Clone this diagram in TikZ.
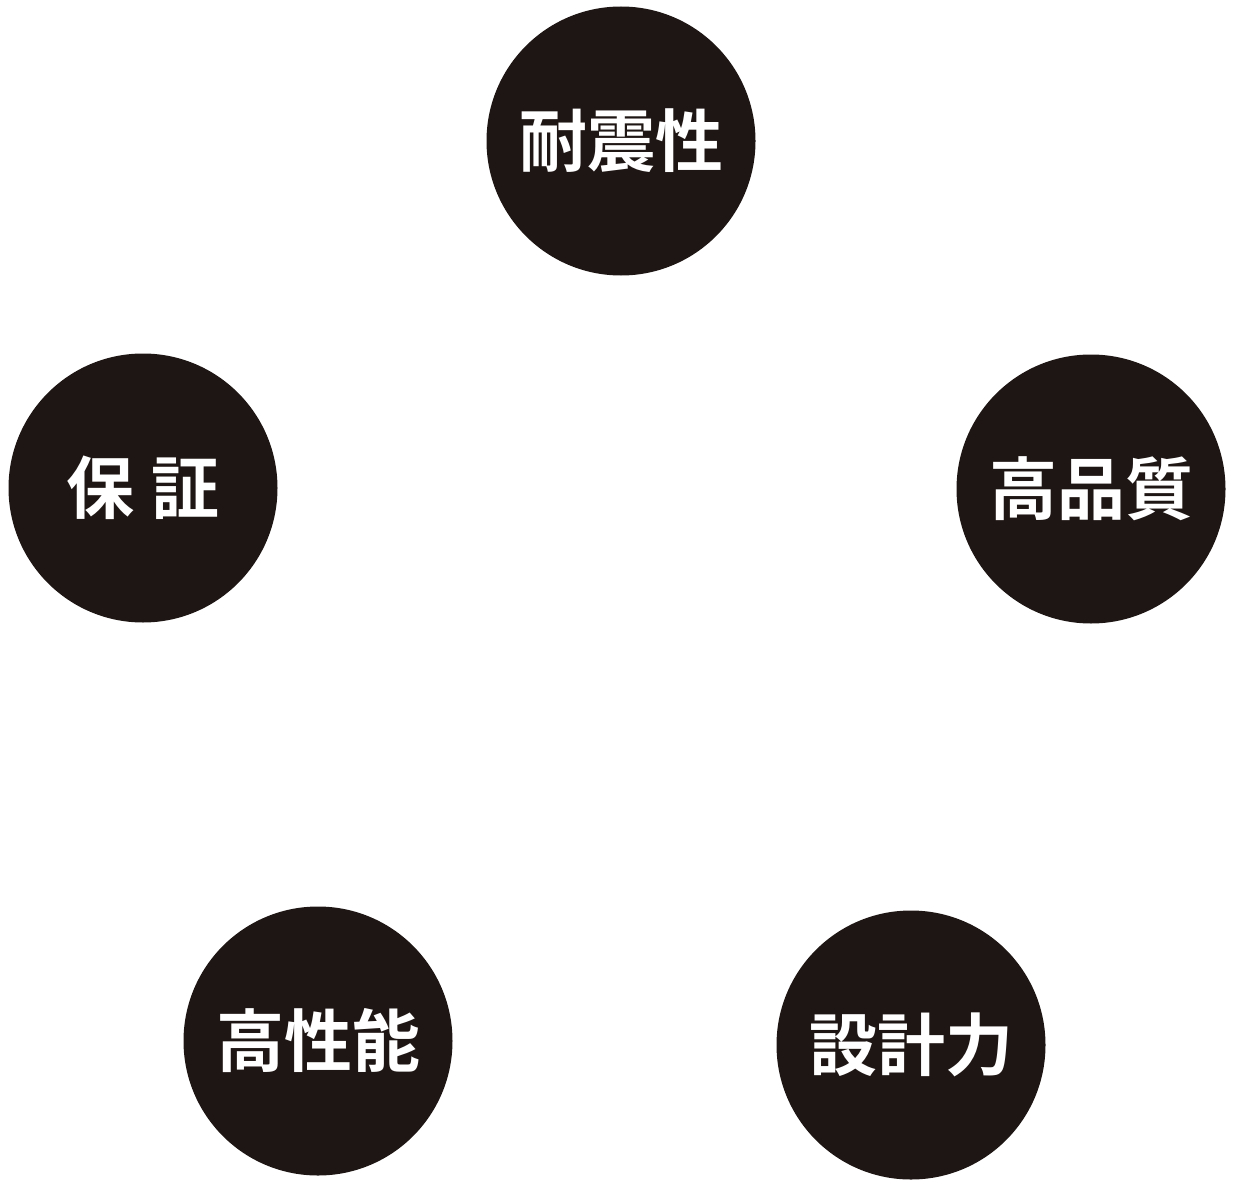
\documentclass[tikz,border=0pt]{standalone}
\usepackage{fontspec}
\newfontfamily\jp{Noto Sans CJK JP}[BoldFont={Noto Sans CJK JP Bold}]
\definecolor{disc}{HTML}{1E1614}
\begin{document}
\begin{tikzpicture}[x=1pt,y=-1pt,
  disk/.style={circle,fill=disc,draw=none,minimum size=269pt,inner sep=0pt,
    text=white,font=\jp\bfseries\fontsize{68pt}{68pt}\selectfont}]
\useasboundingbox (0,0) rectangle (1234,1188);
\node[disk] (taishin) at (621,141) {耐震性};
\node[disk] (hinshitsu) at (1091,489) {高品質};
\node[disk] (hosho) at (143,488) {保\hspace{18pt}証};
\node[disk] (seino) at (318,1041) {高性能};
\node[disk] (sekkei) at (911,1045) {設計力};
\end{tikzpicture}
\end{document}
